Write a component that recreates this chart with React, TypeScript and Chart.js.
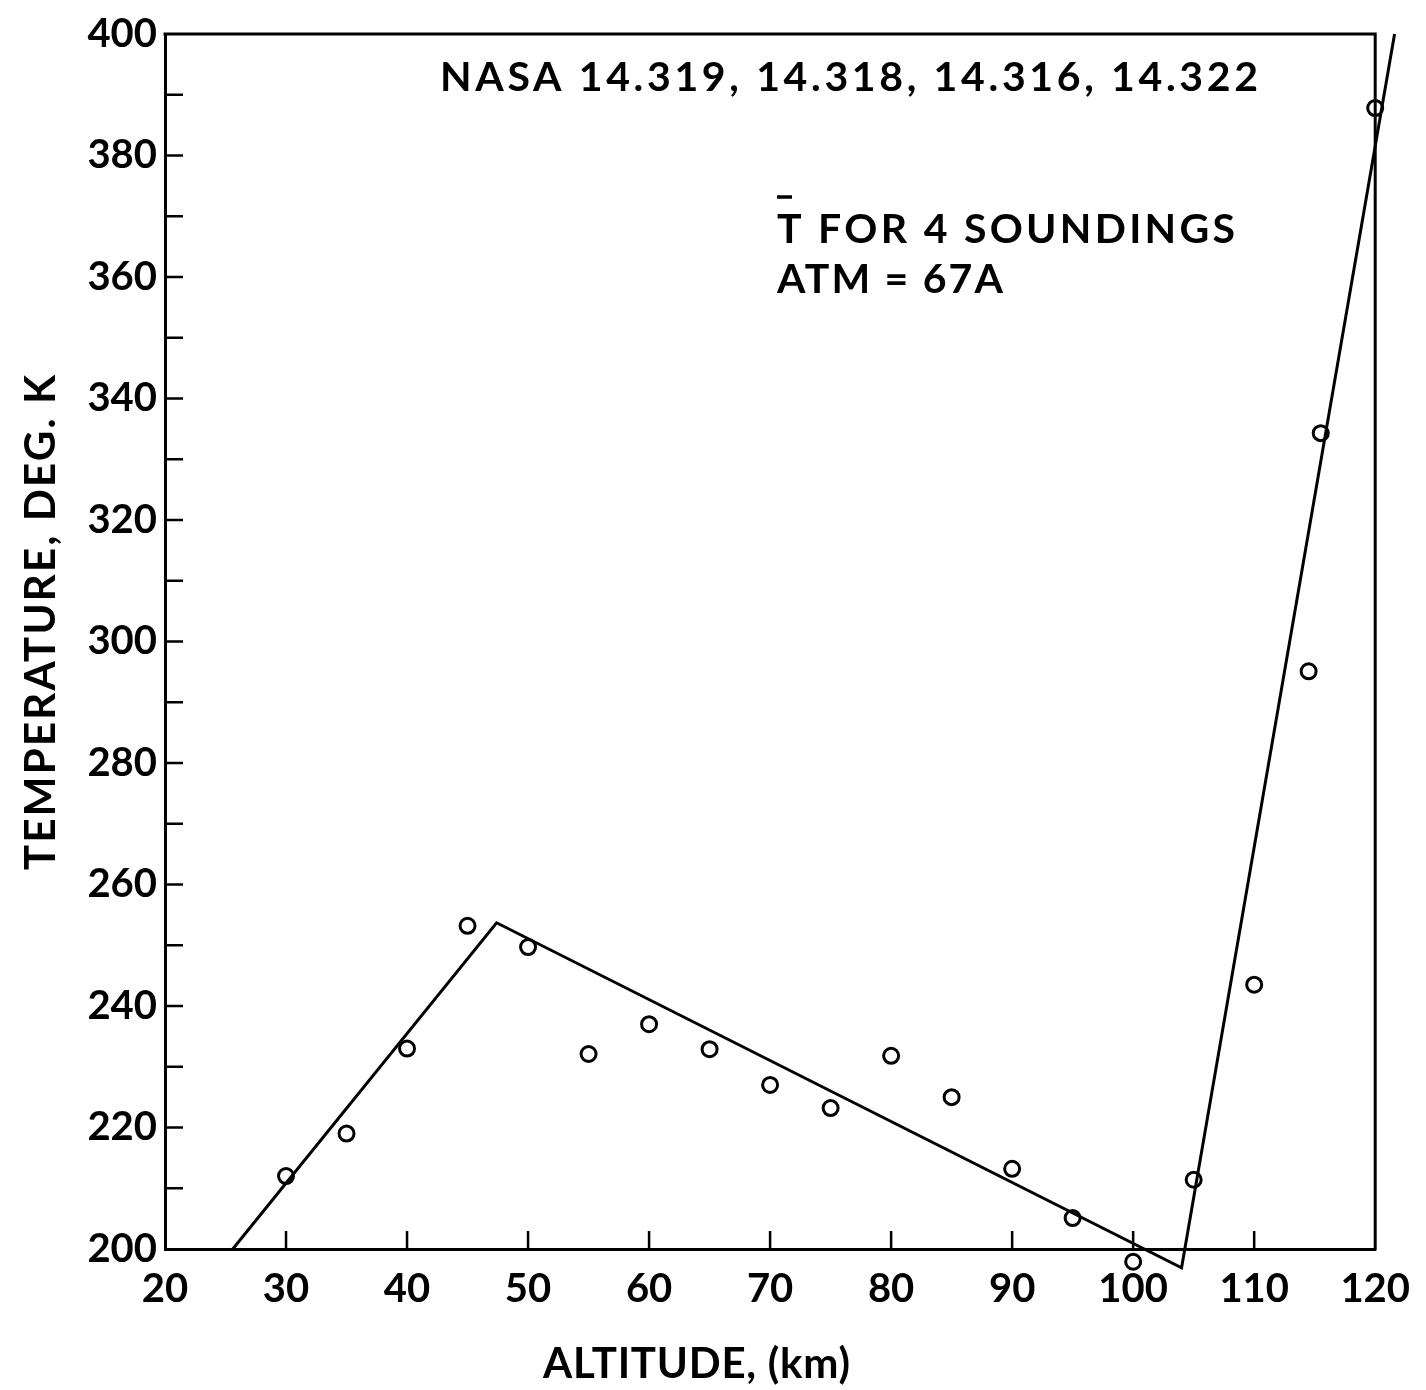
import React, { useEffect, useRef } from "react";
import { Chart, registerables } from "chart.js";

Chart.register(...registerables);

// Mean temperature observations (km, K)
const altitudeKm = [30, 35, 40, 45, 50, 55, 60, 65, 70, 75, 80, 85, 90, 95, 100, 105, 110, 114.5, 115.5, 120];
const temperatureK = [212, 219, 233, 253.2, 249.7, 232.1, 237, 232.9, 227, 223.2, 231.8, 225, 213.2, 205.1, 197.9, 211.4, 243.5, 295.1, 334.3, 387.8];

// Piecewise straight-line fit
const fitAltitudeKm = [25.6, 47.4, 104.0, 121.6];
const fitTemperatureK = [200, 253.7, 196.9, 400];

// Axis ticks
const xTickValues = [20, 30, 40, 50, 60, 70, 80, 90, 100, 110, 120];
const yMajorTicks = [200, 220, 240, 260, 280, 300, 320, 340, 360, 380, 400];
const yMinorTicks = [210, 230, 250, 270, 290, 310, 330, 350, 370, 390];

const titleText = "NASA 14.319, 14.318, 14.316, 14.322";
const noteLine1 = "T FOR 4 SOUNDINGS";
const noteLine2 = "ATM = 67A";
const xTitle = "ALTITUDE, (km)";
const yTitle = "TEMPERATURE, DEG. K";

const FONT = "'Lato', 'Noto Sans', sans-serif";
const INK = "#000";

// Writes text spread out with letter spacing so that it spans the given width
function spacedText(ctx: CanvasRenderingContext2D, text: string, x: number, y: number, width: number) {
  (ctx as any).letterSpacing = "0px";
  const natural = ctx.measureText(text).width;
  const gap = Math.max(0, (width - natural) / Math.max(1, text.length - 1));
  (ctx as any).letterSpacing = `${gap}px`;
  ctx.fillText(text, x, y);
  (ctx as any).letterSpacing = "0px";
}

const framePlugin = {
  id: "frame",
  afterDatasetsDraw(chart: any) {
    const { ctx, chartArea, scales } = chart;
    const xs = scales.x;
    const ys = scales.y;
    ctx.save();

    // observation circles that fall just outside the plotting area
    const meta = chart.getDatasetMeta(1);
    meta.data.forEach((pt: any) => {
      const outside =
        pt.x < chartArea.left || pt.x > chartArea.right || pt.y < chartArea.top || pt.y > chartArea.bottom;
      if (outside) pt.draw(ctx);
    });

    ctx.strokeStyle = INK;
    ctx.lineWidth = 3;
    ctx.lineCap = "square";
    // top and right border
    ctx.beginPath();
    ctx.moveTo(chartArea.left, chartArea.top);
    ctx.lineTo(chartArea.right, chartArea.top);
    ctx.lineTo(chartArea.right, chartArea.bottom);
    ctx.stroke();

    // inward ticks
    const tickLen = 18;
    ctx.lineWidth = 2.5;
    ctx.lineCap = "butt";
    ctx.beginPath();
    [...yMajorTicks, ...yMinorTicks].forEach((v) => {
      if (v === 200 || v === 400) return;
      const y = ys.getPixelForValue(v);
      ctx.moveTo(chartArea.left, y);
      ctx.lineTo(chartArea.left + tickLen, y);
    });
    xTickValues.forEach((v) => {
      if (v === 20 || v === 120) return;
      const x = xs.getPixelForValue(v);
      ctx.moveTo(x, chartArea.bottom);
      ctx.lineTo(x, chartArea.bottom - tickLen);
    });
    ctx.stroke();

    // annotations
    ctx.fillStyle = INK;
    ctx.textBaseline = "alphabetic";
    ctx.textAlign = "left";
    ctx.font = `bold 41px ${FONT}`;
    spacedText(ctx, titleText, 440, 91, 818);
    spacedText(ctx, noteLine1, 777, 243, 458);
    spacedText(ctx, noteLine2, 777, 293, 226);
    // bar over T
    ctx.lineWidth = 3.5;
    ctx.beginPath();
    ctx.moveTo(777, 197);
    ctx.lineTo(792, 197);
    ctx.stroke();

    // axis titles
    ctx.font = `bold 42px ${FONT}`;
    spacedText(ctx, xTitle, 543, 1378, 307);
    ctx.save();
    ctx.translate(55, 870);
    ctx.rotate(-Math.PI / 2);
    spacedText(ctx, yTitle, 0, 0, 495);
    ctx.restore();
    ctx.restore();
  },
};

export default function App() {
  const canvasRef = useRef<HTMLCanvasElement | null>(null);

  useEffect(() => {
    document.body.style.margin = "0";
    const canvas = canvasRef.current;
    if (!canvas) return;
    const chart = new Chart(canvas, {
      type: "scatter",
      data: {
        datasets: [
          {
            label: "fit",
            data: fitAltitudeKm.map((x, i) => ({ x, y: fitTemperatureK[i] })),
            showLine: true,
            borderColor: INK,
            borderWidth: 3,
            pointRadius: 0,
            fill: false,
            tension: 0,
            clip: false,
            order: 2,
          },
          {
            label: "T",
            data: altitudeKm.map((x, i) => ({ x, y: temperatureK[i] })),
            showLine: false,
            pointStyle: "circle",
            pointRadius: 7.5,
            pointBorderWidth: 3,
            pointBorderColor: INK,
            pointBackgroundColor: "rgba(0,0,0,0)",
            clip: false,
            order: 1,
          },
        ],
      },
      plugins: [framePlugin],
      options: {
        responsive: false,
        animation: false,
        events: [],
        layout: { padding: { top: 34, right: 48, left: 0, bottom: 0 } },
        plugins: { legend: { display: false }, tooltip: { enabled: false }, title: { display: false } },
        scales: {
          x: {
            type: "linear",
            min: 20,
            max: 120,
            afterFit(scale: any) {
              scale.height = 141;
            },
            afterBuildTicks(scale: any) {
              scale.ticks = xTickValues.map((value) => ({ value }));
            },
            grid: { display: false, drawTicks: false },
            border: { display: true, color: INK, width: 3 },
            ticks: {
              color: INK,
              padding: 16,
              maxRotation: 0,
              autoSkip: false,
              font: { family: FONT, size: 40, weight: "bold" },
            },
          },
          y: {
            type: "linear",
            min: 200,
            max: 400,
            afterFit(scale: any) {
              scale.width = 165;
            },
            afterBuildTicks(scale: any) {
              scale.ticks = yMajorTicks.map((value) => ({ value }));
            },
            grid: { display: false, drawTicks: false },
            border: { display: true, color: INK, width: 3 },
            ticks: {
              color: INK,
              padding: 8,
              autoSkip: false,
              font: { family: FONT, size: 40, weight: "bold" },
            },
          },
        },
      },
    });
    return () => chart.destroy();
  }, []);

  return <canvas ref={canvasRef} width={1426} height={1390} style={{ display: "block" }} />;
}
